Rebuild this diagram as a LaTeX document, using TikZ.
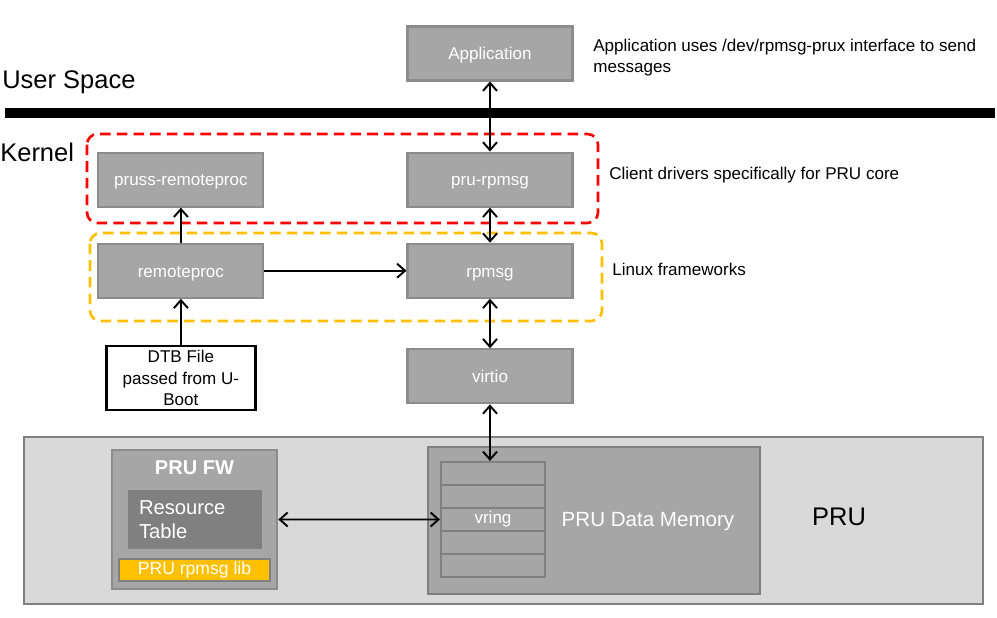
\documentclass[tikz,border=0pt]{standalone}
\usepackage{fontspec}
\setmainfont{Liberation Sans}
\usepackage{tikz}
\usetikzlibrary{arrows.meta, positioning}
\usepackage{xcolor}
\definecolor{PRUBoxGray}{HTML}{A6A6A6}
\definecolor{PRUEdgeGray}{HTML}{8C8C8C}
\definecolor{PRUDarkGray}{HTML}{808080}
\definecolor{PRULightGray}{HTML}{D9D9D9}
\definecolor{PRURed}{HTML}{FF0000}
\definecolor{PRUYellow}{HTML}{FFC000}
\definecolor{PRUWhite}{HTML}{FFFFFF}
\tikzset{
    % Default text
    every node/.style={font=\fontsize{9.7}{12}\selectfont, inner sep=0pt},
    % Grey module box
    module/.style={
        rectangle,
        draw=PRUEdgeGray,
        line width=1.2pt,
        fill=PRUBoxGray,
        text=PRUWhite,
        minimum width=3.3cm,
        minimum height=1.08cm,
        text height=0.72em,
        text depth=0pt,
        align=center
    },
    % Input file box
    filebox/.style={
        rectangle,
        draw=black,
        line width=1.3pt,
        fill=PRUWhite,
        minimum width=2.98cm,
        minimum height=1.28cm,
        align=center
    },
    % Side notes
    note/.style={
        anchor=west,
        align=left
    },
    % Layer label
    layer/.style={
        anchor=west,
        font=\fontsize{14.5}{17}\selectfont
    },
    % Arrow style
    arrow/.style={
        ->,
        >={Straight Barb[length=4.5pt, width=8pt]},
        line width=1.1pt,
        color=black
    },
    % Two way arrow
    twoway/.style={
        arrow,
        <->
    },
    % Dashed group frame
    group/.style={
        dash pattern=on 6pt off 3.5pt,
        line width=1.5pt,
        rounded corners=6pt
    },
    % PRU subsystem
    subsys/.style={
        rectangle,
        draw=PRUDarkGray,
        line width=1.2pt,
        fill=PRULightGray,
        minimum width=19.18cm,
        minimum height=3.34cm
    },
    % Firmware box
    fwbox/.style={
        rectangle,
        draw=PRUEdgeGray,
        line width=1.5pt,
        fill=PRUBoxGray,
        minimum width=3.3cm,
        minimum height=2.78cm
    },
    % Resource table
    tablebox/.style={
        rectangle,
        fill=PRUDarkGray,
        text=PRUWhite,
        minimum width=2.68cm,
        minimum height=1.18cm,
        text width=2.24cm,
        align=left,
        font=\fontsize{11.5}{14}\selectfont
    },
    % Library bar
    libbox/.style={
        rectangle,
        draw=PRUDarkGray,
        line width=1.5pt,
        fill=PRUYellow,
        text=PRUWhite,
        minimum width=3.02cm,
        minimum height=0.44cm,
        font=\fontsize{10}{12}\selectfont
    },
    % Data memory
    membox/.style={
        rectangle,
        draw=PRUDarkGray,
        line width=1.2pt,
        fill=PRUBoxGray,
        minimum width=6.64cm,
        minimum height=2.94cm
    },
    % vring slot
    slot/.style={
        rectangle,
        draw=PRUDarkGray,
        line width=1.2pt,
        fill=PRUBoxGray,
        text=PRUWhite,
        minimum width=2.08cm,
        minimum height=0.46cm
    }
}

\begin{document}
\begin{tikzpicture}
    \useasboundingbox (0,0) rectangle (19.94,-12.36);

    % Layers
    \node (user) [layer] at (0.04,-1.64) {User Space};
    \node (kernel) [layer] at (0,-3.04) {Kernel};
    \draw [line width=5.7pt] (0.1,-2.26) -- (19.9,-2.26);

    % Groups
    \draw [group, draw=PRURed] (1.74,-2.68) rectangle (11.96,-4.46);
    \draw [group, draw=PRUYellow] (1.80,-4.66) rectangle (12.04,-6.42);

    % Linux side
    \node (app) [module] at (9.80,-1.07) {Application};
    \node (prurpmsg) [module, below=1.40cm of app] {pru-rpmsg};
    \node (rpmsg) [module, below=0.70cm of prurpmsg] {rpmsg};
    \node (virtio) [module, below=0.99cm of rpmsg] {virtio};
    \node (pruss) [module, left=2.84cm of prurpmsg] {pruss-remoteproc};
    \node (remoteproc) [module, left=2.84cm of rpmsg] {remoteproc};
    \node (dtb) [filebox, below=0.92cm of remoteproc] {DTB File\\passed from U-\\Boot};

    \node (appnote) [note] at (11.86,-1.16) {Application uses /dev/rpmsg-prux interface to send\\messages};
    \node (clientnote) [note] at (12.18,-3.50) {Client drivers specifically for PRU core};
    \node (fwnote) [note] at (12.24,-5.38) {Linux frameworks};

    % PRU side
    \node (prubox) [subsys] at (10.07,-10.41) {};
    \node (prulabel) [font=\fontsize{14.5}{17}\selectfont] at (16.78,-10.34) {PRU};
    \node (fw) [fwbox] at (3.89,-10.39) {};
    \node (fwtitle) [below=0.24cm of fw.north, text=PRUWhite, font=\fontsize{11.4}{13}\selectfont\bfseries] {PRU FW};
    \node (restable) [tablebox] at (3.90,-10.39) {Resource\\Table};
    \node (rpmsglib) [libbox] at (3.89,-11.40) {PRU rpmsg lib};

    \node (datamem) [membox] at (11.88,-10.41) {};
    \foreach \i/\t in {1/{},2/{},3/vring,4/{},5/{}}
        \node (vr\i) [slot] at (9.86,{-9.47-0.46*(\i-1)}) {\t};
    \node (memlabel) [font=\fontsize{11.7}{14}\selectfont, text=PRUWhite] at (12.96,-10.44) {PRU Data Memory};

    % Connections
    \draw [twoway] (app) -- (prurpmsg);
    \draw [twoway] (prurpmsg) -- (rpmsg);
    \draw [twoway] (rpmsg) -- (virtio);
    \draw [twoway] (virtio.south) -- (virtio.south |- vr1.north);
    \draw [arrow] (remoteproc) -- (pruss);
    \draw [arrow] (remoteproc) -- (rpmsg);
    \draw [arrow] (dtb) -- (remoteproc);
    \draw [twoway] (fw) -- (vr3);
\end{tikzpicture}
\end{document}
